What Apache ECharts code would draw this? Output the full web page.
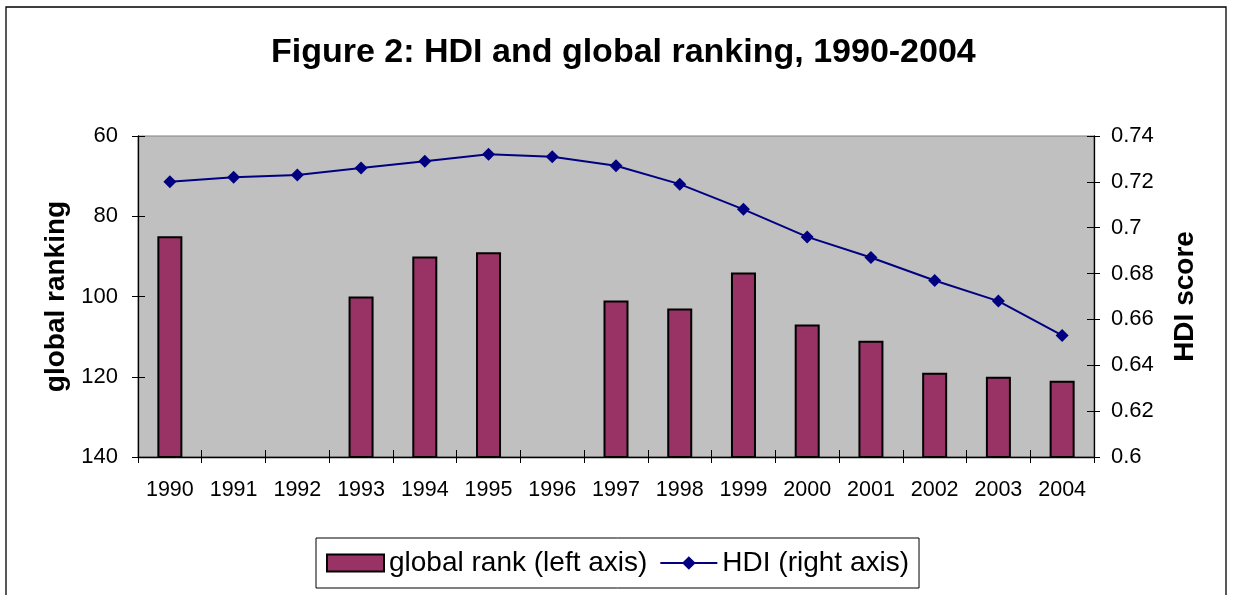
<!DOCTYPE html>
<html>
<head>
<meta charset="utf-8">
<script src="https://cdn.jsdelivr.net/npm/echarts@6/dist/echarts.min.js"></script>
<style>
html,body{margin:0;padding:0;background:#fff;}
#chart{width:1233px;height:595px;}
</style>
</head>
<body>
<div id="chart"></div>
<script>
var years = ['1990','1991','1992','1993','1994','1995','1996','1997','1998','1999','2000','2001','2002','2003','2004'];
var globalRank = [85, null, null, 100, 90, 89, null, 101, 103, 94, 107, 111, 119, 120, 121];
var hdiScore = [0.720, 0.722, 0.723, 0.726, 0.729, 0.732, 0.731, 0.727, 0.719, 0.708, 0.696, 0.687, 0.677, 0.668, 0.653];
var rankTicks = [60, 80, 100, 120, 140];
var hdiTicks = [0.6, 0.62, 0.64, 0.66, 0.68, 0.7, 0.72, 0.74];

// left axis is reversed (60 at top, 140 at bottom); bars rise from 140
var RANK_FLIP = rankTicks[0] + rankTicks[rankTicks.length - 1];
var rankPlot = globalRank.map(function (r) { return r == null ? null : RANK_FLIP - r; });

var FONT = '"Liberation Sans", Arial, sans-serif';
var chart = echarts.init(document.getElementById('chart'), null, {renderer: 'canvas'});
chart.setOption({
  animation: false,
  backgroundColor: '#ffffff',
  textStyle: {fontFamily: FONT, color: '#000'},
  title: {
    text: 'Figure 2: HDI and global ranking, 1990-2004',
    left: 266,
    top: 31,
    textStyle: {fontFamily: FONT, fontSize: 34, fontWeight: 'bold', color: '#000'}
  },
  graphic: [{
    type: 'rect',
    shape: {x: 6, y: 7, width: 1220, height: 620},
    style: {fill: 'none', stroke: '#000', lineWidth: 1.3},
    silent: true,
    z: 100
  }],
  legend: {
    left: 316,
    top: 538,
    padding: [11, 10],
    itemGap: 12,
    itemWidth: 57,
    itemHeight: 17,
    borderColor: '#000',
    borderWidth: 1,
    backgroundColor: '#fff',
    textStyle: {fontFamily: FONT, fontSize: 28, color: '#000'},
    data: [{name: 'global rank (left axis)', icon: 'rect'}, {name: 'HDI (right axis)'}]
  },
  grid: {
    left: 138, right: 139, top: 136, bottom: 138,
    show: true,
    backgroundColor: '#C0C0C0',
    borderColor: '#808080',
    borderWidth: 1,
    containLabel: false
  },
  xAxis: [{
    type: 'category',
    data: years,
    boundaryGap: true,
    axisLine: {show: true, lineStyle: {color: '#000', width: 1.3}},
    axisTick: {show: true, alignWithLabel: false, length: 6, lineStyle: {color: '#000'}},
    axisLabel: {fontFamily: FONT, fontSize: 21.5, color: '#000', margin: 22},
    splitLine: {show: false}
  }, {
    type: 'category',
    data: years,
    position: 'bottom',
    boundaryGap: true,
    axisLine: {show: false},
    axisTick: {show: true, inside: true, alignWithLabel: false, length: 7, lineStyle: {color: '#000'}},
    axisLabel: {show: false},
    splitLine: {show: false}
  }],
  yAxis: [{
    type: 'value',
    position: 'left',
    min: rankTicks[0],
    max: rankTicks[rankTicks.length - 1],
    interval: rankTicks[1] - rankTicks[0],
    name: 'global ranking',
    nameLocation: 'middle',
    nameRotate: 90,
    nameGap: 68,
    nameTextStyle: {fontFamily: FONT, fontSize: 28, fontWeight: 'bold', color: '#000'},
    axisLine: {show: true, lineStyle: {color: '#000', width: 1.3}},
    axisTick: {show: true, length: 6, lineStyle: {color: '#000'}},
    axisLabel: {fontFamily: FONT, fontSize: 22, color: '#000', margin: 20,
      formatter: function (v) { return String(RANK_FLIP - v); }},
    splitLine: {show: false}
  }, {
    type: 'value',
    position: 'right',
    min: hdiTicks[0],
    max: hdiTicks[hdiTicks.length - 1],
    interval: 0.02,
    name: 'HDI score',
    nameLocation: 'middle',
    nameRotate: 90,
    nameGap: 77,
    nameTextStyle: {fontFamily: FONT, fontSize: 28, fontWeight: 'bold', color: '#000'},
    axisLine: {show: true, lineStyle: {color: '#000', width: 1.3}},
    axisTick: {show: true, length: 6, lineStyle: {color: '#000'}},
    axisLabel: {fontFamily: FONT, fontSize: 22, color: '#000', margin: 17,
      formatter: function (v) { return String(Math.round(v * 100) / 100); }},
    splitLine: {show: false}
  }, {
    type: 'value',
    position: 'left',
    min: rankTicks[0],
    max: rankTicks[rankTicks.length - 1],
    interval: rankTicks[1] - rankTicks[0],
    axisLine: {show: false},
    axisTick: {show: true, inside: true, length: 7, lineStyle: {color: '#000'}},
    axisLabel: {show: false},
    splitLine: {show: false}
  }, {
    type: 'value',
    position: 'right',
    min: hdiTicks[0],
    max: hdiTicks[hdiTicks.length - 1],
    interval: 0.02,
    axisLine: {show: false},
    axisTick: {show: true, inside: true, length: 7, lineStyle: {color: '#000'}},
    axisLabel: {show: false},
    splitLine: {show: false}
  }],
  series: [{
    name: 'global rank (left axis)',
    type: 'bar',
    xAxisIndex: 0,
    yAxisIndex: 0,
    data: rankPlot,
    barWidth: 25,
    clip: true,
    itemStyle: {color: '#993366', borderColor: '#000', borderWidth: 2}
  }, {
    name: 'HDI (right axis)',
    type: 'line',
    xAxisIndex: 0,
    yAxisIndex: 1,
    data: hdiScore,
    symbol: 'diamond',
    symbolSize: 13,
    lineStyle: {color: '#000080', width: 2},
    itemStyle: {color: '#000080'},
    z: 5
  }]
});
</script>
</body>
</html>
